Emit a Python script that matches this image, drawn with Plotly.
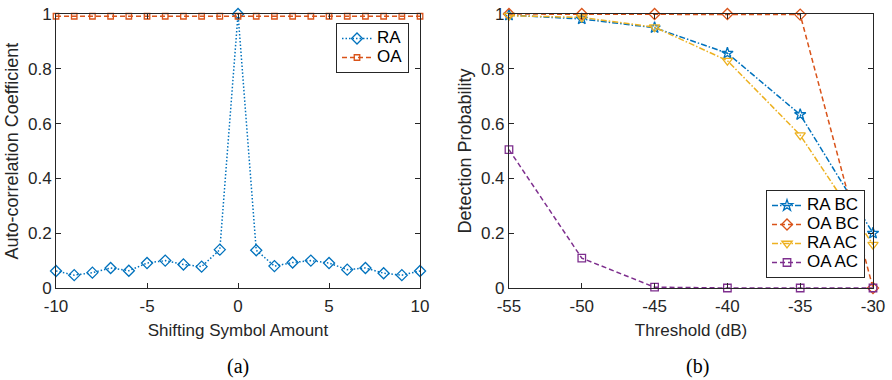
import plotly.graph_objects as go

# (a) auto-correlation versus shift
shift = list(range(-10, 11))
ra_corr = [0.062, 0.047, 0.056, 0.073, 0.063, 0.091, 0.100, 0.086, 0.078, 0.140, 1.0,
           0.138, 0.080, 0.093, 0.100, 0.091, 0.067, 0.073, 0.054, 0.047, 0.062]
oa_corr = [0.992] * 21

# (b) detection probability versus threshold
threshold = [-55, -50, -45, -40, -35, -30]
ra_bc = [0.996, 0.982, 0.950, 0.857, 0.633, 0.200]
oa_bc = [1.0, 1.0, 1.0, 1.0, 0.998, 0.0]
ra_ac = [0.994, 0.988, 0.952, 0.830, 0.558, 0.158]
oa_ac = [0.505, 0.109, 0.003, 0.0, 0.0, 0.0]

xa_ticks = [-10, -5, 0, 5, 10]
xb_ticks = [-55, -50, -45, -40, -35, -30]
y_ticks = [0, 0.2, 0.4, 0.6, 0.8, 1]
y_labels = ["0", "0.2", "0.4", "0.6", "0.8", "1"]

BLUE = "#0072BD"
ORANGE = "#D95319"
YELLOW = "#EDB120"
PURPLE = "#7E2F8E"
AX = "#262626"
FONT = "Liberation Sans, Arial, sans-serif"

DOT = "1.5px,2px"
DASH = "5px,3px"
DASHDOT = "6px,2px,1.5px,2px"

fig = go.Figure()

def legend_label(name):
    # larger glyphs inside a compact legend row
    return f'<span style="font-size:17px">{name}</span>'

def add(x, y, name, color, dash, symbol, xa, ya, legend, size):
    fig.add_trace(go.Scatter(
        x=x, y=y, name=legend_label(name), mode="lines+markers",
        line=dict(color=color, width=1.5, dash=dash),
        marker=dict(symbol=symbol, size=size, color=color,
                    line=dict(color=color, width=1.3)),
        xaxis=xa, yaxis=ya, legend=legend, cliponaxis=False))

add(shift, ra_corr, "RA", BLUE, DOT, "diamond-open", "x", "y", "legend", 8.5)
add(shift, oa_corr, "OA", ORANGE, DASH, "square-open", "x", "y", "legend", 5.5)

add(threshold, ra_bc, "RA BC", BLUE, DASHDOT, "star-open", "x2", "y2", "legend2", 8.5)
add(threshold, oa_bc, "OA BC", ORANGE, DASH, "diamond-open", "x2", "y2", "legend2", 8.5)
add(threshold, ra_ac, "RA AC", YELLOW, DASHDOT, "triangle-down-open", "x2", "y2", "legend2", 9)
add(threshold, oa_ac, "OA AC", PURPLE, DASH, "square-open", "x2", "y2", "legend2", 7.5)

axis_common = dict(showline=True, linecolor=AX, linewidth=1, mirror="ticks",
                   ticks="inside", ticklen=5, tickcolor=AX, tickwidth=1,
                   showgrid=False, zeroline=False, automargin=False,
                   tickfont=dict(family=FONT, size=17, color=AX))

xtitle_font = dict(family=FONT, size=17, color=AX)
ytitle_font = dict(family=FONT, size=18, color=AX)

legend_common = dict(bgcolor="white", bordercolor=AX, borderwidth=1,
                     font=dict(family=FONT, size=12, color="#000"),
                     tracegroupgap=0, itemwidth=30)

fig.update_layout(
    template="none",
    width=892, height=380, margin=dict(l=0, r=0, t=0, b=0),
    paper_bgcolor="white", plot_bgcolor="white",
    xaxis=dict(domain=[0.0628, 0.4709], range=[-10, 10], tickvals=xa_ticks,
               ticktext=[str(v) for v in xa_ticks], anchor="y", ticklabelstandoff=3,
               title=dict(text="Shifting Symbol Amount", font=xtitle_font, standoff=8),
               **axis_common),
    yaxis=dict(domain=[0.2421, 0.963], range=[0, 1], tickvals=y_ticks,
               ticktext=y_labels, anchor="x",
               title=dict(text="Auto-correlation Coefficient", font=ytitle_font, standoff=4),
               **axis_common),
    xaxis2=dict(domain=[0.5706, 0.9787], range=[-55, -30], tickvals=xb_ticks,
                ticktext=[str(v) for v in xb_ticks], anchor="y2", ticklabelstandoff=3,
                title=dict(text="Threshold (dB)", font=xtitle_font, standoff=8),
                **axis_common),
    yaxis2=dict(domain=[0.2421, 0.963], range=[0, 1], tickvals=y_ticks,
                ticktext=y_labels, anchor="x2",
                title=dict(text="Detection Probability", font=ytitle_font, standoff=4),
                **axis_common),
    legend=dict(x=409 / 892, y=1 - 23 / 380, xanchor="right", yanchor="top",
                **legend_common),
    legend2=dict(x=865 / 892, y=1 - 278 / 380, xanchor="right", yanchor="bottom",
                 **legend_common),
    showlegend=True,
)

serif = dict(family="Liberation Serif, Times New Roman, serif", size=20, color="#000")
for label, xc in (("(a)", 238), ("(b)", 697)):
    fig.add_annotation(text=label, x=xc / 892, y=1 - 366 / 380, xref="paper", yref="paper",
                       xanchor="center", yanchor="middle", showarrow=False, font=serif)

fig.write_html("out.html")
